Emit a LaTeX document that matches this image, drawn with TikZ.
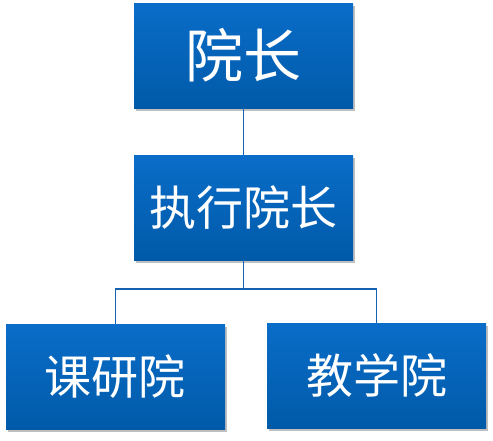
\documentclass[tikz,border=0pt]{standalone}
\usepackage{fontspec}
\newfontfamily\cjk{Noto Sans CJK SC}
\usetikzlibrary{positioning, shadows}
\definecolor{boxtop}{HTML}{0A6DC9}
\definecolor{boxbottom}{HTML}{005AA8}
\definecolor{linkblue}{HTML}{1762B0}
\tikzset{
	unitbox/.style={rectangle, minimum width=219pt, minimum height=105pt, inner sep=0pt,
		top color=boxtop, bottom color=boxbottom, text=white,
		drop shadow={shadow xshift=1.5pt, shadow yshift=-2.5pt, opacity=0.25, fill=black}},
	link/.style={draw=linkblue, line width=1.5pt}
}

\begin{document}
\begin{tikzpicture}[x=1pt, y=-1pt]
	\useasboundingbox (0,0) rectangle (493,440);
	% Boxes
	\node[unitbox, font=\cjk\fontsize{58}{60}\selectfont] (dean) at (243.5,55.5) {院长};
	\node[unitbox, font=\cjk\fontsize{47}{50}\selectfont] (exec) at (243.5,207.5) {执行院长};
	\node[unitbox, font=\cjk\fontsize{47}{50}\selectfont] (research) at (115.5,376.5) {课研院};
	\node[unitbox, font=\cjk\fontsize{47}{50}\selectfont] (teaching) at (376.5,375.5) {教学院};
	\coordinate (split) at (243.5,289);
	
	% Links
	\draw[link] (dean.south) -- (exec.north);
	\draw[link] (exec.south) -- (split);
	\draw[link] (split) -| (research.north);
	\draw[link] (split) -| (teaching.north);
\end{tikzpicture}
\end{document}
